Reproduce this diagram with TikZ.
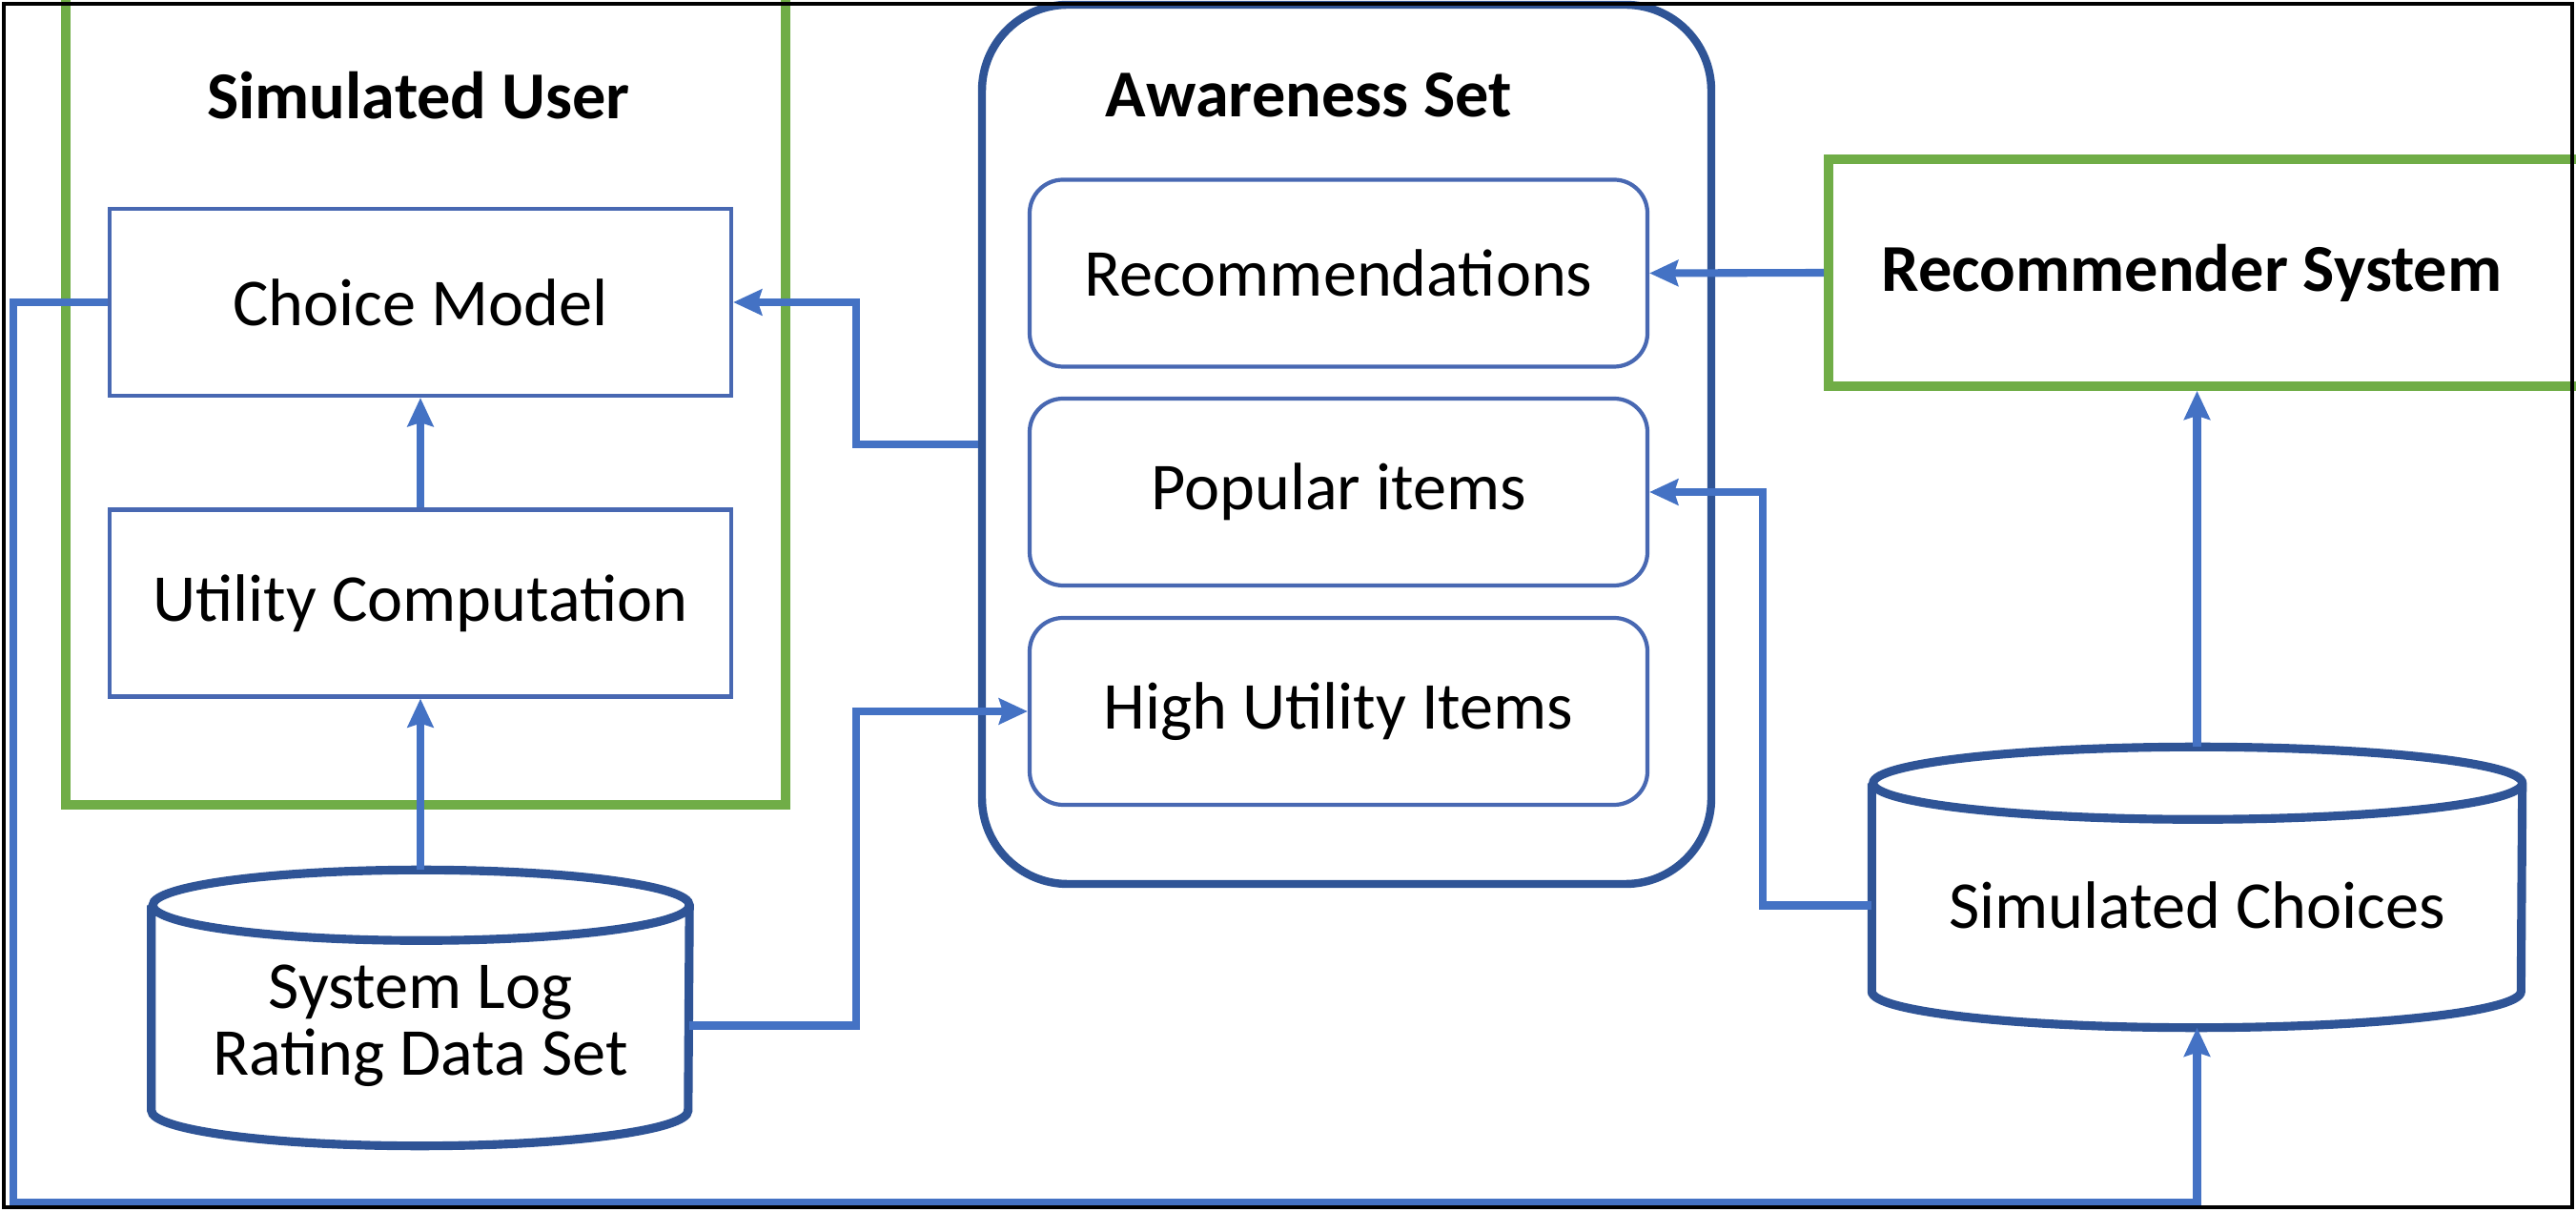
\documentclass[tikz,border=0pt]{standalone}
\usepackage{fontspec}
\setmainfont{Carlito}
\usetikzlibrary{arrows.meta}
\definecolor{linkblue}{RGB}{68,114,196}
\definecolor{boxblue}{RGB}{72,104,178}
\definecolor{dbblue}{RGB}{47,84,150}
\definecolor{grpgreen}{RGB}{112,173,71}
\begin{document}
\begin{tikzpicture}[
        font=\fontsize{20}{20}\selectfont,
        grp/.style={draw=grpgreen,line width=2.8pt,inner sep=0pt},
        item/.style={draw=boxblue,line width=1.2pt,minimum width=6.52cm,minimum height=1.96cm},
        aitem/.style={item,rounded corners=0.35cm,minimum width=6.48cm},
        ttl/.style={font=\fontsize{20}{24}\selectfont\bfseries},
        db/.style={inner sep=0pt,align=center},
        dbline/.style={draw=dbblue,line width=2.6pt},
        link/.style={draw=linkblue,line width=2.3pt},
        arr/.style={link,-{Stealth[length=0.3cm,width=0.27cm,inset=0.04cm]}}
    ]
        \useasboundingbox (0,0) rectangle (27.02,12.7);
        %% Groups
        \node[grp,minimum width=7.55cm,minimum height=8.49cm] (user) at (4.465,8.505) {};
        \node[ttl] (usertitle) at (4.39,11.70) {Simulated User};
        \node[grp,draw=dbblue,line width=2.4pt,rounded corners=0.9cm,minimum width=7.65cm,minimum height=9.22cm] (aware) at (14.125,8.04) {};
        \node[ttl] (awaretitle) at (13.73,11.70) {Awareness Set};
        \node[grp,ttl,minimum width=7.92cm,minimum height=2.38cm] (recsys) at (23.14,9.84) {Recommender System\hspace*{0.3cm}};
        %% Boxes
        \node[item] (choice) at (4.41,9.53) {Choice Model};
        \node[item] (util) at (4.41,6.375) {Utility Computation};
        \node[aitem] (rec) at (14.04,9.835) {Recommendations};
        \node[aitem] (pop) at (14.04,7.54) {Popular items};
        \node[aitem] (high) at (14.04,5.24) {High Utility Items};
        %% Data stores
        \node[db,minimum width=5.63cm,minimum height=2.51cm] (syslog) at (4.41,1.945) {System Log\\Rating Data Set};
        \draw[dbline] (syslog.north west) -- ([yshift=0.37cm]syslog.south west)
            arc[start angle=180,end angle=360,x radius=2.815cm,y radius=0.37cm]
            -- (syslog.north east) arc[start angle=0,end angle=360,x radius=2.815cm,y radius=0.37cm];
        \node[db,minimum width=6.81cm,minimum height=2.55cm] (simch) at (23.045,3.205) {Simulated Choices};
        \draw[dbline] (simch.north west) -- ([yshift=0.38cm]simch.south west)
            arc[start angle=180,end angle=360,x radius=3.405cm,y radius=0.38cm]
            -- (simch.north east) arc[start angle=0,end angle=360,x radius=3.405cm,y radius=0.38cm];
        %% Bends
        \coordinate (jl) at (8.98,0);
        \coordinate (jr) at (18.49,0);
        \coordinate (jb) at (0.14,0.09);
        %% Arrows
        \draw[arr] (util.north) -- (choice.south);
        \draw[arr] ([yshift=0.37cm]syslog.north) -- (util.south);
        \draw[arr] (aware.west) -- (aware.west -| jl) |- (choice.east);
        \draw[arr] (syslog.east) -- (syslog.east -| jl) |- (high.west);
        \draw[arr] (recsys.west) -- (rec.east);
        \draw[arr] (simch.west) -- (simch.west -| jr) |- (pop.east);
        \draw[arr] ([yshift=0.38cm]simch.north) -- (simch.north |- recsys.south);
        \draw[arr] (choice.west) -| (jb) -| (simch.south);
        %% Frame
        \draw[line width=1pt] (0.04,0.04) rectangle (26.98,12.66);
    \end{tikzpicture}
\end{document}
